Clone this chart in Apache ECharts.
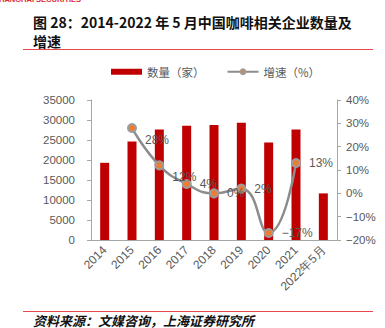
<!DOCTYPE html>
<html>
<head>
<meta charset="utf-8">
<script src="https://cdn.jsdelivr.net/npm/echarts@6/dist/echarts.min.js"></script>
<style>
  html, body { margin: 0; padding: 0; background: #fff; }
  #chart { width: 385px; height: 328px; }
</style>
</head>
<body>
<div id="chart"></div>
<script>
// Categories and series values
const categories = ['2014', '2015', '2016', '2017', '2018', '2019', '2020', '2021', '2022年5月'];
const companyCount = [19300, 24650, 27650, 28550, 28750, 29300, 24400, 27650, 11650];
const growthRate = [null, 28, 12, 4, 0, 2, -17, 13, null];

const leftTicks = { min: 0, max: 35000, interval: 5000 };
const rightTicks = { min: -20, max: 40, interval: 10 };

const minus = v => (v < 0 ? '\u2212' + Math.abs(v) : String(v));

const grey = '#595959';
const axisGrey = '#A6A6A6';
const numFont = '"Liberation Sans", Arial, sans-serif';
const cjkFont = '"Noto Sans CJK SC", "Liberation Sans", sans-serif';

const chart = echarts.init(document.getElementById('chart'), null, { renderer: 'svg' });

const lineData = growthRate.map((v, i) => {
  if (v === null) return null;
  const item = { value: v };
  // the first two labels sit a little lower, clear of the curve
  if (i === 1 || i === 2) item.label = { offset: [0, 12] };
  return item;
});

chart.setOption({
  animation: false,
  textStyle: { fontFamily: numFont },
  graphic: [
    {
      type: 'text', left: -6, top: -5,
      style: { text: 'SHANGHAI SECURITIES', fill: '#E0282E', font: 'bold 7.5px "Liberation Sans", Arial, sans-serif' }
    },
    {
      type: 'text', x: 33, y: 22,
      style: { text: '图 28：2014-2022 年 5 月中国咖啡相关企业数量及', fill: '#111', font: 'bold 14px ' + cjkFont, textVerticalAlign: 'middle' }
    },
    {
      type: 'text', x: 33, y: 41,
      style: { text: '增速', fill: '#111', font: 'bold 14px ' + cjkFont, textVerticalAlign: 'middle' }
    },
    {
      type: 'line', shape: { x1: 23, y1: 49.5, x2: 373, y2: 49.5 },
      style: { stroke: '#E8474C', lineWidth: 1 }
    },
    {
      type: 'line', shape: { x1: 23, y1: 311.5, x2: 373, y2: 311.5 },
      style: { stroke: '#E8474C', lineWidth: 1 }
    },
    {
      type: 'text', x: 33, y: 320,
      style: { text: '资料来源：文媒咨询，上海证券研究所', fill: '#111', font: 'italic bold 13px ' + cjkFont, textVerticalAlign: 'middle' }
    }
  ],
  legend: {
    left: 106, top: 61,
    itemGap: 22,
    itemWidth: 31, itemHeight: 6,
    textStyle: { color: grey, fontSize: 11.5, fontFamily: cjkFont },
    data: [
      { name: '数量（家）', icon: 'rect' },
      { name: '增速（%）' }
    ]
  },
  grid: { left: 91, right: 48, top: 100, bottom: 88, containLabel: false },
  xAxis: {
    type: 'category',
    data: categories,
    axisLine: { lineStyle: { color: axisGrey } },
    axisTick: { lineStyle: { color: axisGrey }, length: 4 },
    axisLabel: { rotate: 45, color: grey, fontSize: 12, margin: 8, interval: 0 }
  },
  yAxis: [
    {
      type: 'value', min: leftTicks.min, max: leftTicks.max, interval: leftTicks.interval,
      splitLine: { show: false },
      axisLine: { show: true, lineStyle: { color: axisGrey } },
      axisTick: { show: true, length: 4, lineStyle: { color: axisGrey } },
      axisLabel: { color: grey, fontSize: 11.5, margin: 16, formatter: v => String(v) }
    },
    {
      type: 'value', min: rightTicks.min, max: rightTicks.max, interval: rightTicks.interval,
      splitLine: { show: false },
      axisLine: { show: true, lineStyle: { color: axisGrey } },
      axisTick: { show: true, length: 4, lineStyle: { color: axisGrey } },
      axisLabel: { color: grey, fontSize: 11.5, margin: 9, formatter: v => minus(v) + '%' }
    }
  ],
  series: [
    {
      name: '数量（家）',
      type: 'bar',
      data: companyCount,
      barWidth: 9,
      itemStyle: { color: '#C00000' }
    },
    {
      name: '增速（%）',
      type: 'line',
      yAxisIndex: 1,
      data: lineData,
      smooth: true,
      connectNulls: false,
      symbol: 'circle',
      symbolSize: 8,
      lineStyle: { color: '#8C8C8C', width: 2.5 },
      itemStyle: { color: '#ED7D31', borderColor: '#9C9C9C', borderWidth: 2 },
      label: {
        show: true, position: 'right', distance: 8,
        color: grey, fontSize: 12,
        formatter: p => minus(p.value) + '%'
      },
      z: 5
    }
  ]
});
</script>
</body>
</html>
